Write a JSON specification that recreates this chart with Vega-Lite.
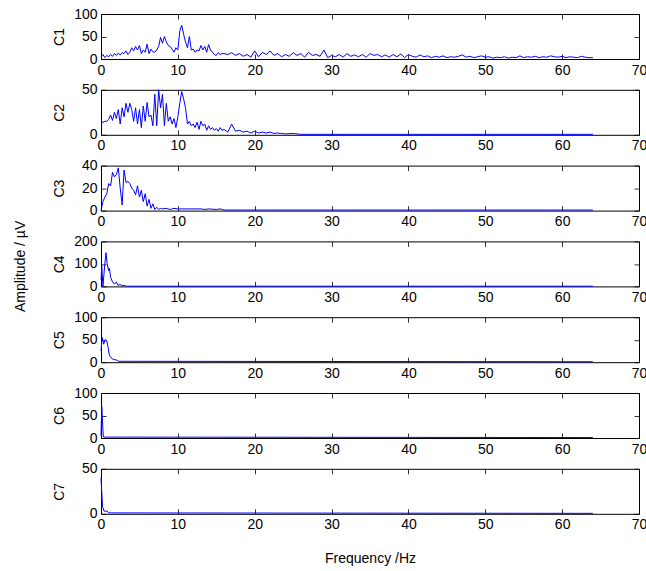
{
  "$schema": "https://vega.github.io/schema/vega-lite/v6.json",
  "padding": {"left": 13, "top": 6, "right": 0, "bottom": 0},
  "title": {"text": "Amplitude / µV", "orient": "left", "anchor": "middle", "fontSize": 14, "fontWeight": "normal", "font": "Liberation Sans", "color": "black", "offset": 24, "dx": 20},
  "datasets": {
    "c1": [
      {"f":0,"a":5},{"f":0.25,"a":10},{"f":0.5,"a":3},{"f":0.75,"a":8},{"f":1,"a":5},{"f":1.25,"a":10},{"f":1.5,"a":6},{"f":1.75,"a":12},{"f":2,"a":8},{"f":2.25,"a":13},{"f":2.5,"a":9},{"f":2.75,"a":14},{"f":3,"a":12},{"f":3.25,"a":18},{"f":3.5,"a":10},{"f":3.75,"a":15},{"f":4,"a":25},{"f":4.25,"a":18},{"f":4.5,"a":28},{"f":4.75,"a":20},{"f":5,"a":30},{"f":5.25,"a":12},{"f":5.5,"a":20},{"f":5.75,"a":15},{"f":6,"a":33},{"f":6.25,"a":12},{"f":6.5,"a":22},{"f":6.75,"a":16},{"f":7,"a":15},{"f":7.25,"a":20},{"f":7.5,"a":28},{"f":7.75,"a":48},{"f":8,"a":35},{"f":8.25,"a":50},{"f":8.5,"a":38},{"f":8.75,"a":30},{"f":9,"a":28},{"f":9.25,"a":22},{"f":9.5,"a":15},{"f":9.75,"a":25},{"f":10,"a":20},{"f":10.25,"a":62},{"f":10.5,"a":75},{"f":10.75,"a":55},{"f":11,"a":38},{"f":11.25,"a":25},{"f":11.5,"a":50},{"f":11.75,"a":20},{"f":12,"a":22},{"f":12.25,"a":15},{"f":12.5,"a":20},{"f":12.75,"a":18},{"f":13,"a":30},{"f":13.25,"a":20},{"f":13.5,"a":28},{"f":13.75,"a":15},{"f":14,"a":32},{"f":14.25,"a":20},{"f":14.5,"a":15},{"f":14.75,"a":10},{"f":15,"a":8},{"f":15.25,"a":14},{"f":15.5,"a":10},{"f":15.75,"a":12},
      {"f":16,"a":12},{"f":16.5,"a":10},{"f":17,"a":14},{"f":17.5,"a":8},{"f":18,"a":12},{"f":18.5,"a":6},{"f":19,"a":10},{"f":19.5,"a":4},{"f":20,"a":18},{"f":20.5,"a":5},{"f":21,"a":15},{"f":21.5,"a":10},{"f":22,"a":18},{"f":22.5,"a":8},{"f":23,"a":12},{"f":23.5,"a":5},{"f":24,"a":10},{"f":24.5,"a":6},{"f":25,"a":14},{"f":25.5,"a":8},{"f":26,"a":12},{"f":26.5,"a":4},{"f":27,"a":15},{"f":27.5,"a":8},{"f":28,"a":10},{"f":28.5,"a":6},{"f":29,"a":20},{"f":29.5,"a":3},{"f":30,"a":8},{"f":30.5,"a":5},{"f":31,"a":10},{"f":31.5,"a":4},{"f":32,"a":12},{"f":32.5,"a":6},{"f":33,"a":9},{"f":33.5,"a":5},{"f":34,"a":10},{"f":34.5,"a":4},{"f":35,"a":12},{"f":35.5,"a":8},{"f":36,"a":10},{"f":36.5,"a":5},{"f":37,"a":9},{"f":37.5,"a":4},{"f":38,"a":10},{"f":38.5,"a":5},{"f":39,"a":11},{"f":39.5,"a":3},{"f":40,"a":10},{"f":40.5,"a":6},{"f":41,"a":4},{"f":41.5,"a":9},{"f":42,"a":5},{"f":42.5,"a":7},{"f":43,"a":3},{"f":43.5,"a":6},{"f":44,"a":4},{"f":44.5,"a":7},{"f":45,"a":3},{"f":45.5,"a":5},{"f":46,"a":4},{"f":46.5,"a":6},{"f":47,"a":9},{"f":47.5,"a":4},{"f":48,"a":6},{"f":48.5,"a":3},{"f":49,"a":5},{"f":49.5,"a":7},{"f":50,"a":4},{"f":50.5,"a":5},{"f":51,"a":2},{"f":51.5,"a":4},{"f":52,"a":3},{"f":52.5,"a":5},{"f":53,"a":2},{"f":53.5,"a":4},{"f":54,"a":3},{"f":54.5,"a":7},{"f":55,"a":3},{"f":55.5,"a":5},{"f":56,"a":4},{"f":56.5,"a":6},{"f":57,"a":3},{"f":57.5,"a":5},{"f":58,"a":4},{"f":58.5,"a":7},{"f":59,"a":5},{"f":59.5,"a":4},{"f":60,"a":6},{"f":60.5,"a":3},{"f":61,"a":5},{"f":61.5,"a":4},{"f":62,"a":3},{"f":62.5,"a":6},{"f":63,"a":4},{"f":63.5,"a":3},{"f":64,"a":3}
    ],
    "c2": [
      {"f":0,"a":13},{"f":0.25,"a":14},{"f":0.5,"a":15},{"f":0.75,"a":15},{"f":1,"a":17},{"f":1.25,"a":22},{"f":1.5,"a":16},{"f":1.75,"a":25},{"f":2,"a":18},{"f":2.25,"a":28},{"f":2.5,"a":12},{"f":2.75,"a":30},{"f":3,"a":20},{"f":3.25,"a":35},{"f":3.5,"a":25},{"f":3.75,"a":35},{"f":4,"a":28},{"f":4.25,"a":15},{"f":4.5,"a":30},{"f":4.75,"a":12},{"f":5,"a":28},{"f":5.25,"a":8},{"f":5.5,"a":32},{"f":5.75,"a":15},{"f":6,"a":36},{"f":6.25,"a":20},{"f":6.5,"a":22},{"f":6.75,"a":10},{"f":7,"a":45},{"f":7.25,"a":10},{"f":7.5,"a":50},{"f":7.75,"a":30},{"f":8,"a":45},{"f":8.25,"a":10},{"f":8.5,"a":35},{"f":8.75,"a":15},{"f":9,"a":20},{"f":9.25,"a":12},{"f":9.5,"a":18},{"f":9.75,"a":8},{"f":10,"a":20},{"f":10.25,"a":35},{"f":10.5,"a":48},{"f":10.75,"a":40},{"f":11,"a":30},{"f":11.25,"a":12},{"f":11.5,"a":15},{"f":11.75,"a":10},{"f":12,"a":12},{"f":12.25,"a":8},{"f":12.5,"a":14},{"f":12.75,"a":6},{"f":13,"a":15},{"f":13.25,"a":10},{"f":13.5,"a":12},{"f":13.75,"a":5},{"f":14,"a":10},{"f":14.25,"a":6},{"f":14.5,"a":8},{"f":14.75,"a":5},{"f":15,"a":7},{"f":15.25,"a":4},{"f":15.5,"a":8},{"f":15.75,"a":5},{"f":16,"a":6},{"f":16.5,"a":3},{"f":17,"a":12},{"f":17.5,"a":4},{"f":18,"a":5},{"f":18.5,"a":3},{"f":19,"a":4},{"f":19.5,"a":2},{"f":20,"a":4},{"f":20.5,"a":2},{"f":21,"a":3},{"f":21.5,"a":2},{"f":22,"a":3},{"f":22.5,"a":1.5},{"f":23,"a":2},{"f":23.5,"a":1.5},{"f":24,"a":1},{"f":25,"a":1.5},{"f":26,"a":0.5},{"f":64,"a":0.5}
    ],
    "c3": [
      {"f":0,"a":0},{"f":0.25,"a":8},{"f":0.5,"a":12},{"f":0.75,"a":15},{"f":1,"a":24},{"f":1.25,"a":22},{"f":1.5,"a":34},{"f":1.75,"a":30},{"f":2,"a":32},{"f":2.25,"a":38},{"f":2.5,"a":20},{"f":2.75,"a":5},{"f":3,"a":36},{"f":3.25,"a":25},{"f":3.5,"a":26},{"f":3.75,"a":24},{"f":4,"a":20},{"f":4.25,"a":18},{"f":4.5,"a":14},{"f":4.75,"a":22},{"f":5,"a":12},{"f":5.25,"a":18},{"f":5.5,"a":8},{"f":5.75,"a":15},{"f":6,"a":4},{"f":6.25,"a":10},{"f":6.5,"a":2},{"f":6.75,"a":6},{"f":7,"a":1},{"f":7.25,"a":3},{"f":7.5,"a":1},{"f":7.75,"a":2},{"f":8,"a":1.5},{"f":8.5,"a":2},{"f":9,"a":1},{"f":9.5,"a":2},{"f":10,"a":1.5},{"f":13,"a":1.5},{"f":13.5,"a":1},{"f":14,"a":1.5},{"f":15,"a":1},{"f":15.5,"a":1.5},{"f":16,"a":0.5},{"f":64,"a":0.5}
    ],
    "c4": [
      {"f":0,"a":30},{"f":0.1,"a":90},{"f":0.25,"a":0},{"f":0.5,"a":100},{"f":0.65,"a":150},{"f":0.8,"a":100},{"f":1,"a":70},{"f":1.1,"a":80},{"f":1.25,"a":40},{"f":1.5,"a":20},{"f":1.75,"a":10},{"f":2,"a":20},{"f":2.2,"a":5},{"f":2.5,"a":8},{"f":2.75,"a":3},{"f":3,"a":5},{"f":3.25,"a":1},{"f":64,"a":1}
    ],
    "c5": [
      {"f":0,"a":25},{"f":0.15,"a":55},{"f":0.35,"a":40},{"f":0.55,"a":50},{"f":0.75,"a":48},{"f":0.9,"a":35},{"f":1.1,"a":15},{"f":1.3,"a":10},{"f":1.6,"a":6},{"f":2,"a":5},{"f":2.3,"a":2},{"f":64,"a":1}
    ],
    "c6": [
      {"f":0,"a":5},{"f":0.1,"a":70},{"f":0.3,"a":2},{"f":64,"a":1}
    ],
    "c7": [
      {"f":0,"a":40},{"f":0.2,"a":8},{"f":0.4,"a":3},{"f":0.8,"a":3},{"f":1,"a":1},{"f":64,"a":0.5}
    ]
  },
  "vconcat": [
    {
      "width": 538, "height": 45, "data": {"name": "c1"},
      "layer": [
        {"mark": {"type": "line", "color": "#0000ff", "strokeWidth": 1},
         "encoding": {
           "x": {"field": "f", "type": "quantitative", "scale": {"domain": [0, 70]}, "axis": {"values": [0,10,20,30,40,50,60,70], "title": null}},
           "y": {"field": "a", "type": "quantitative", "scale": {"domain": [0, 100]}, "axis": {"values": [0,50,100], "title": "C1", "titleX": -35}}}},
        {"mark": {"type": "line", "opacity": 0},
         "encoding": {
           "x": {"field": "f", "type": "quantitative", "axis": {"orient": "top", "values": [0,10,20,30,40,50,60,70], "labels": false, "title": null}},
           "y": {"field": "a", "type": "quantitative", "axis": {"orient": "right", "values": [0,50,100], "labels": false, "title": null}}}}
      ],
      "resolve": {"axis": {"x": "independent", "y": "independent"}}
    },
    {
      "width": 538, "height": 45, "data": {"name": "c2"},
      "layer": [
        {"mark": {"type": "line", "color": "#0000ff", "strokeWidth": 1},
         "encoding": {
           "x": {"field": "f", "type": "quantitative", "scale": {"domain": [0, 70]}, "axis": {"values": [0,10,20,30,40,50,60,70], "title": null}},
           "y": {"field": "a", "type": "quantitative", "scale": {"domain": [0, 50]}, "axis": {"values": [0,50], "title": "C2", "titleX": -35}}}},
        {"mark": {"type": "line", "opacity": 0},
         "encoding": {
           "x": {"field": "f", "type": "quantitative", "axis": {"orient": "top", "values": [0,10,20,30,40,50,60,70], "labels": false, "title": null}},
           "y": {"field": "a", "type": "quantitative", "axis": {"orient": "right", "values": [0,50], "labels": false, "title": null}}}}
      ],
      "resolve": {"axis": {"x": "independent", "y": "independent"}}
    },
    {
      "width": 538, "height": 45, "data": {"name": "c3"},
      "layer": [
        {"mark": {"type": "line", "color": "#0000ff", "strokeWidth": 1},
         "encoding": {
           "x": {"field": "f", "type": "quantitative", "scale": {"domain": [0, 70]}, "axis": {"values": [0,10,20,30,40,50,60,70], "title": null}},
           "y": {"field": "a", "type": "quantitative", "scale": {"domain": [0, 40]}, "axis": {"values": [0,20,40], "title": "C3", "titleX": -35}}}},
        {"mark": {"type": "line", "opacity": 0},
         "encoding": {
           "x": {"field": "f", "type": "quantitative", "axis": {"orient": "top", "values": [0,10,20,30,40,50,60,70], "labels": false, "title": null}},
           "y": {"field": "a", "type": "quantitative", "axis": {"orient": "right", "values": [0,20,40], "labels": false, "title": null}}}}
      ],
      "resolve": {"axis": {"x": "independent", "y": "independent"}}
    },
    {
      "width": 538, "height": 45, "data": {"name": "c4"},
      "layer": [
        {"mark": {"type": "line", "color": "#0000ff", "strokeWidth": 1},
         "encoding": {
           "x": {"field": "f", "type": "quantitative", "scale": {"domain": [0, 70]}, "axis": {"values": [0,10,20,30,40,50,60,70], "title": null}},
           "y": {"field": "a", "type": "quantitative", "scale": {"domain": [0, 200]}, "axis": {"values": [0,100,200], "title": "C4", "titleX": -35}}}},
        {"mark": {"type": "line", "opacity": 0},
         "encoding": {
           "x": {"field": "f", "type": "quantitative", "axis": {"orient": "top", "values": [0,10,20,30,40,50,60,70], "labels": false, "title": null}},
           "y": {"field": "a", "type": "quantitative", "axis": {"orient": "right", "values": [0,100,200], "labels": false, "title": null}}}}
      ],
      "resolve": {"axis": {"x": "independent", "y": "independent"}}
    },
    {
      "width": 538, "height": 45, "data": {"name": "c5"},
      "layer": [
        {"mark": {"type": "line", "color": "#0000ff", "strokeWidth": 1},
         "encoding": {
           "x": {"field": "f", "type": "quantitative", "scale": {"domain": [0, 70]}, "axis": {"values": [0,10,20,30,40,50,60,70], "title": null}},
           "y": {"field": "a", "type": "quantitative", "scale": {"domain": [0, 100]}, "axis": {"values": [0,50,100], "title": "C5", "titleX": -35}}}},
        {"mark": {"type": "line", "opacity": 0},
         "encoding": {
           "x": {"field": "f", "type": "quantitative", "axis": {"orient": "top", "values": [0,10,20,30,40,50,60,70], "labels": false, "title": null}},
           "y": {"field": "a", "type": "quantitative", "axis": {"orient": "right", "values": [0,50,100], "labels": false, "title": null}}}}
      ],
      "resolve": {"axis": {"x": "independent", "y": "independent"}}
    },
    {
      "width": 538, "height": 45, "data": {"name": "c6"},
      "layer": [
        {"mark": {"type": "line", "color": "#0000ff", "strokeWidth": 1},
         "encoding": {
           "x": {"field": "f", "type": "quantitative", "scale": {"domain": [0, 70]}, "axis": {"values": [0,10,20,30,40,50,60,70], "title": null}},
           "y": {"field": "a", "type": "quantitative", "scale": {"domain": [0, 100]}, "axis": {"values": [0,50,100], "title": "C6", "titleX": -35}}}},
        {"mark": {"type": "line", "opacity": 0},
         "encoding": {
           "x": {"field": "f", "type": "quantitative", "axis": {"orient": "top", "values": [0,10,20,30,40,50,60,70], "labels": false, "title": null}},
           "y": {"field": "a", "type": "quantitative", "axis": {"orient": "right", "values": [0,50,100], "labels": false, "title": null}}}}
      ],
      "resolve": {"axis": {"x": "independent", "y": "independent"}}
    },
    {
      "width": 538, "height": 45, "data": {"name": "c7"},
      "layer": [
        {"mark": {"type": "line", "color": "#0000ff", "strokeWidth": 1},
         "encoding": {
           "x": {"field": "f", "type": "quantitative", "scale": {"domain": [0, 70]}, "axis": {"values": [0,10,20,30,40,50,60,70], "title": "Frequency /Hz", "titlePadding": 20}},
           "y": {"field": "a", "type": "quantitative", "scale": {"domain": [0, 50]}, "axis": {"values": [0,50], "title": "C7", "titleX": -35}}}},
        {"mark": {"type": "line", "opacity": 0},
         "encoding": {
           "x": {"field": "f", "type": "quantitative", "axis": {"orient": "top", "values": [0,10,20,30,40,50,60,70], "labels": false, "title": null}},
           "y": {"field": "a", "type": "quantitative", "axis": {"orient": "right", "values": [0,50], "labels": false, "title": null}}}}
      ],
      "resolve": {"axis": {"x": "independent", "y": "independent"}}
    }
  ],
  "spacing": 3.8,
  "config": {
    "font": "Liberation Sans",
    "background": "white",
    "view": {"stroke": "black", "strokeWidth": 1},
    "axis": {"domain": false, "grid": false, "tickSize": -5, "tickColor": "black", "tickWidth": 0.8, "labelFont": "Liberation Sans", "labelFontSize": 14, "labelColor": "black", "labelPadding": 9, "labelFlush": false, "labelOverlap": false, "titleFont": "Liberation Sans", "titleFontSize": 14, "titleFontWeight": "normal", "titleColor": "black"}
  }
}
